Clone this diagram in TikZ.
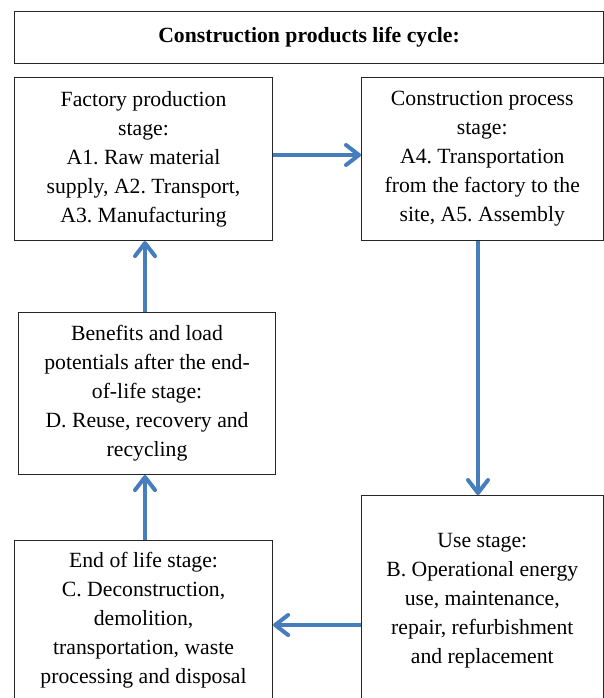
\documentclass[tikz,border=0pt]{standalone}
\usepackage{fontspec}
\setmainfont{Liberation Serif}
\frenchspacing
\usetikzlibrary{arrows.meta}
\definecolor{arrowblue}{RGB}{70,126,189}
\begin{document}
\begin{tikzpicture}[x=1pt,y=-1pt,
  box/.style={draw=black!85, line width=1.1pt, inner sep=0pt, align=center,
    font=\fontsize{21.7}{29}\selectfont, anchor=north west},
  flow/.style={draw=arrowblue, line width=4pt,
    -{Straight Barb[length=13pt,width=20pt,line cap=round,line join=round]}}]
\useasboundingbox (0,0) rectangle (604,698);
\clip (0,0) rectangle (604,698);
\node[box, minimum width=589pt, minimum height=52pt] (title) at (14,11)
  {\textbf{Construction products life cycle:}};
\node[box, minimum width=258pt, minimum height=163pt] (b1) at (14,77)
  {Factory production\\stage:\\A1. Raw material\\supply, A2. Transport,\\A3. Manufacturing};
\node[box, minimum width=241.5pt, minimum height=163pt] (b2) at (361,77)
  {Construction process\\stage:\\A4. Transportation\\from the factory to the\\site, A5. Assembly};
\node[box, minimum width=257pt, minimum height=162pt] (b3) at (18,312)
  {Benefits and load\\potentials after the end-\\of-life stage:\\D. Reuse, recovery and\\recycling};
\node[box, minimum width=241.5pt, minimum height=210pt] (b4) at (361,495)
  {Use stage:\\B. Operational energy\\use, maintenance,\\repair, refurbishment\\and replacement};
\node[box, minimum width=258pt, minimum height=160pt] (b5) at (14,540)
  {End of life stage:\\C. Deconstruction,\\demolition,\\transportation, waste\\processing and disposal};
\draw[flow] (b1.east |- 0,155) -- (b2.west |- 0,155);
\draw[flow] (b2.south -| 478,0) -- (b4.north -| 478,0);
\draw[flow] (b4.west |- 0,625) -- (b5.east |- 0,625);
\draw[flow] (b5.north -| 145,0) -- (b3.south -| 145,0);
\draw[flow] (b3.north -| 145,0) -- (b1.south -| 145,0);
\end{tikzpicture}
\end{document}
